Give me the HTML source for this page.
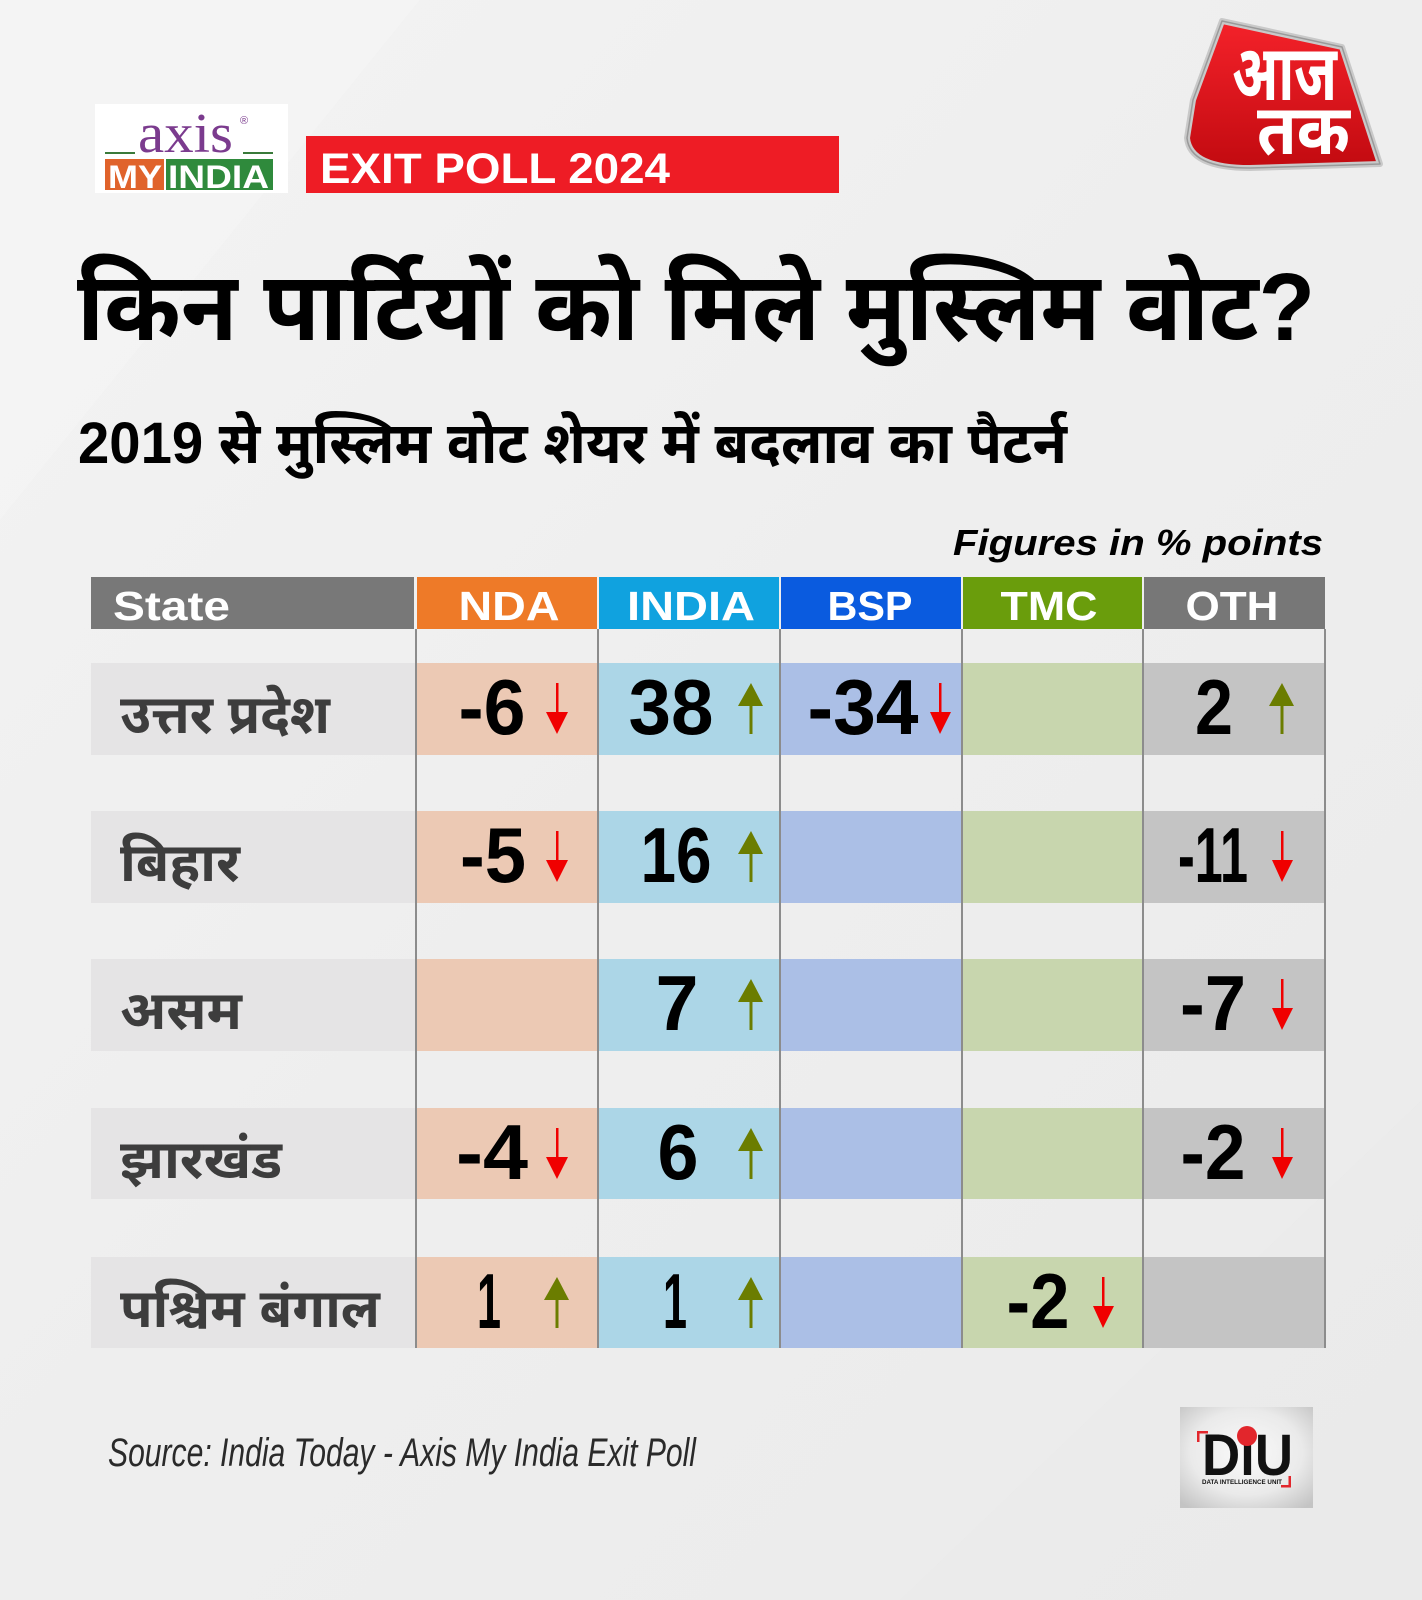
<!DOCTYPE html>
<html>
<head>
<meta charset="utf-8">
<style>
html,body{margin:0;padding:0;}
body{width:1422px;height:1600px;overflow:hidden;background:#eeeeee;}
svg{display:block;}
.hi{font-family:"Liberation Sans","Noto Sans Devanagari","Lohit Devanagari","Mukta","Hind","FreeSans",sans-serif;font-weight:bold;}
.la{font-family:"Liberation Sans",sans-serif;font-weight:bold;}
</style>
</head>
<body>
<svg width="1422" height="1600" viewBox="0 0 1422 1600" xmlns="http://www.w3.org/2000/svg">
  <defs>
    <linearGradient id="bg" x1="0" y1="0" x2="1" y2="1">
      <stop offset="0" stop-color="#f3f3f3"/>
      <stop offset="0.5" stop-color="#eeeeee"/>
      <stop offset="1" stop-color="#ebebeb"/>
    </linearGradient>
    <linearGradient id="red" x1="0" y1="0" x2="0" y2="1">
      <stop offset="0" stop-color="#f4222a"/>
      <stop offset="1" stop-color="#c20a10"/>
    </linearGradient>
    <radialGradient id="diu" cx="0.5" cy="0.45" r="0.7">
      <stop offset="0" stop-color="#fafafa"/>
      <stop offset="0.6" stop-color="#eaeaea"/>
      <stop offset="1" stop-color="#c4c4c4"/>
    </radialGradient>
  </defs>

  <!-- background -->
  <rect x="0" y="0" width="1422" height="1600" fill="url(#bg)"/>
  <polygon points="0,0 420,0 0,520" fill="#f5f5f5" opacity="0.5"/>
  <polygon points="900,1600 1422,1100 1422,1600" fill="#e9e9e9" opacity="0.5"/>

  <!-- Axis My India logo -->
  <rect x="95" y="104" width="193" height="89" fill="#ffffff"/>
  <text x="138" y="152" font-family="Liberation Serif, serif" font-size="56" fill="#7b3b8e" textLength="95" lengthAdjust="spacingAndGlyphs">axis</text>
  <text x="240" y="124" font-family="Liberation Sans, sans-serif" font-size="11" fill="#7b3b8e">®</text>
  <rect x="105" y="152" width="30" height="2" fill="#3a7a3a"/>
  <rect x="243" y="152" width="30" height="2" fill="#3a7a3a"/>
  <rect x="105" y="159" width="59" height="31" fill="#e0632b"/>
  <rect x="166" y="159" width="107" height="31" fill="#2f8a3c"/>
  <text x="108" y="188" class="la" font-size="32" fill="#ffffff" textLength="54" lengthAdjust="spacingAndGlyphs">MY</text>
  <text x="168" y="188" class="la" font-size="32" fill="#ffffff" textLength="101" lengthAdjust="spacingAndGlyphs">INDIA</text>

  <!-- EXIT POLL bar -->
  <rect x="306" y="136" width="533" height="57" fill="#ee1c25"/>
  <text x="320" y="183" class="la" font-size="43" fill="#ffffff" textLength="350" lengthAdjust="spacingAndGlyphs">EXIT POLL 2024</text>

  <!-- Aaj Tak logo -->
  <path d="M1222,21 L1342,47 L1380,164 L1250,168 Q1190,168 1187,138 L1193,100 Z" fill="url(#red)" stroke="#c9c9c9" stroke-width="6" stroke-linejoin="round"/>
  <path d="M1222,21 L1342,47 L1380,164 L1250,168 Q1190,168 1187,138 L1193,100 Z" fill="none" stroke="#9a9a9a" stroke-width="1.5" stroke-linejoin="round"/>
  <text x="1232" y="100" class="hi" font-size="78" fill="#ffffff" textLength="105" lengthAdjust="spacingAndGlyphs">आज</text>
  <text x="1257" y="154" class="hi" font-size="70" fill="#ffffff" textLength="93" lengthAdjust="spacingAndGlyphs">तक</text>

  <!-- Title -->
  <text x="77" y="340" class="hi" font-size="96" fill="#000000" textLength="1238" lengthAdjust="spacingAndGlyphs">किन पार्टियों को मिले मुस्लिम वोट?</text>
  <!-- Subtitle -->
  <text x="78" y="463" class="hi" font-size="58" fill="#000000" textLength="989" lengthAdjust="spacingAndGlyphs">2019 से मुस्लिम वोट शेयर में बदलाव का पैटर्न</text>

  <!-- Figures in % points -->
  <text x="953" y="555" font-family="Liberation Sans, sans-serif" font-weight="bold" font-style="italic" font-size="36" fill="#000000" textLength="370" lengthAdjust="spacingAndGlyphs">Figures in % points</text>

  <!-- Header row -->
  <rect x="91" y="577" width="323" height="52" fill="#787878"/>
  <rect x="417" y="577" width="180" height="52" fill="#ee7a28"/>
  <rect x="599" y="577" width="180" height="52" fill="#10a2df"/>
  <rect x="781" y="577" width="180" height="52" fill="#0a5bdf"/>
  <rect x="963" y="577" width="179" height="52" fill="#6a9d0c"/>
  <rect x="1144" y="577" width="181" height="52" fill="#777777"/>
  <g class="la" font-size="41" fill="#ffffff">
    <text x="113" y="620" textLength="117" lengthAdjust="spacingAndGlyphs">State</text>
    <text x="509" y="620" text-anchor="middle" textLength="101" lengthAdjust="spacingAndGlyphs">NDA</text>
    <text x="691" y="620" text-anchor="middle" textLength="128" lengthAdjust="spacingAndGlyphs">INDIA</text>
    <text x="870" y="620" text-anchor="middle" textLength="85" lengthAdjust="spacingAndGlyphs">BSP</text>
    <text x="1049" y="620" text-anchor="middle" textLength="97" lengthAdjust="spacingAndGlyphs">TMC</text>
    <text x="1232" y="620" text-anchor="middle" textLength="93" lengthAdjust="spacingAndGlyphs">OTH</text>
  </g>

  <!-- Data rows backgrounds -->
  <g>
    <g transform="translate(0,663)">
      <rect x="91" y="0" width="325" height="92" fill="#e5e4e5"/>
      <rect x="416" y="0" width="182" height="92" fill="#ecc9b4"/>
      <rect x="598" y="0" width="182" height="92" fill="#acd6e7"/>
      <rect x="780" y="0" width="182" height="92" fill="#abbfe6"/>
      <rect x="962" y="0" width="181" height="92" fill="#c8d6ae"/>
      <rect x="1143" y="0" width="182" height="92" fill="#c4c4c4"/>
    </g>
    <g transform="translate(0,811)">
      <rect x="91" y="0" width="325" height="92" fill="#e5e4e5"/>
      <rect x="416" y="0" width="182" height="92" fill="#ecc9b4"/>
      <rect x="598" y="0" width="182" height="92" fill="#acd6e7"/>
      <rect x="780" y="0" width="182" height="92" fill="#abbfe6"/>
      <rect x="962" y="0" width="181" height="92" fill="#c8d6ae"/>
      <rect x="1143" y="0" width="182" height="92" fill="#c4c4c4"/>
    </g>
    <g transform="translate(0,959)">
      <rect x="91" y="0" width="325" height="92" fill="#e5e4e5"/>
      <rect x="416" y="0" width="182" height="92" fill="#ecc9b4"/>
      <rect x="598" y="0" width="182" height="92" fill="#acd6e7"/>
      <rect x="780" y="0" width="182" height="92" fill="#abbfe6"/>
      <rect x="962" y="0" width="181" height="92" fill="#c8d6ae"/>
      <rect x="1143" y="0" width="182" height="92" fill="#c4c4c4"/>
    </g>
    <g transform="translate(0,1108)">
      <rect x="91" y="0" width="325" height="91" fill="#e5e4e5"/>
      <rect x="416" y="0" width="182" height="91" fill="#ecc9b4"/>
      <rect x="598" y="0" width="182" height="91" fill="#acd6e7"/>
      <rect x="780" y="0" width="182" height="91" fill="#abbfe6"/>
      <rect x="962" y="0" width="181" height="91" fill="#c8d6ae"/>
      <rect x="1143" y="0" width="182" height="91" fill="#c4c4c4"/>
    </g>
    <g transform="translate(0,1257)">
      <rect x="91" y="0" width="325" height="91" fill="#e5e4e5"/>
      <rect x="416" y="0" width="182" height="91" fill="#ecc9b4"/>
      <rect x="598" y="0" width="182" height="91" fill="#acd6e7"/>
      <rect x="780" y="0" width="182" height="91" fill="#abbfe6"/>
      <rect x="962" y="0" width="181" height="91" fill="#c8d6ae"/>
      <rect x="1143" y="0" width="182" height="91" fill="#c4c4c4"/>
    </g>
  </g>

  <!-- vertical lines -->
  <g stroke="#8c8c8c" stroke-width="2">
    <line x1="416" y1="629" x2="416" y2="1348"/>
    <line x1="598" y1="629" x2="598" y2="1348"/>
    <line x1="780" y1="629" x2="780" y2="1348"/>
    <line x1="962" y1="629" x2="962" y2="1348"/>
    <line x1="1143" y1="629" x2="1143" y2="1348"/>
    <line x1="1325" y1="629" x2="1325" y2="1348"/>
  </g>

  <!-- State names -->
  <g class="hi" font-size="54" fill="#3d3d3d">
    <text x="120" y="733" textLength="210" lengthAdjust="spacingAndGlyphs">उत्तर प्रदेश</text>
    <text x="120" y="881" textLength="120" lengthAdjust="spacingAndGlyphs">बिहार</text>
    <text x="120" y="1029" textLength="122" lengthAdjust="spacingAndGlyphs">असम</text>
    <text x="120" y="1178" textLength="162" lengthAdjust="spacingAndGlyphs">झारखंड</text>
    <text x="120" y="1327" textLength="260" lengthAdjust="spacingAndGlyphs">पश्चिम बंगाल</text>
  </g>

  <!-- Numbers -->
  <g class="la" font-size="78" fill="#000000" text-anchor="middle">
    <text x="492" y="734" textLength="67" lengthAdjust="spacingAndGlyphs">-6</text>
    <text x="671" y="734" textLength="85" lengthAdjust="spacingAndGlyphs">38</text>
    <text x="863" y="734" textLength="111" lengthAdjust="spacingAndGlyphs">-34</text>
    <text x="1214" y="734" textLength="38" lengthAdjust="spacingAndGlyphs">2</text>
    <text x="493" y="882" textLength="66" lengthAdjust="spacingAndGlyphs">-5</text>
    <text x="676" y="882" textLength="71" lengthAdjust="spacingAndGlyphs">16</text>
    <text x="1213" y="882" textLength="70" lengthAdjust="spacingAndGlyphs">-11</text>
    <text x="677" y="1030" textLength="43" lengthAdjust="spacingAndGlyphs">7</text>
    <text x="1213" y="1030" textLength="66" lengthAdjust="spacingAndGlyphs">-7</text>
    <text x="492" y="1179" textLength="72" lengthAdjust="spacingAndGlyphs">-4</text>
    <text x="678" y="1179" textLength="41" lengthAdjust="spacingAndGlyphs">6</text>
    <text x="1213" y="1179" textLength="65" lengthAdjust="spacingAndGlyphs">-2</text>
    <text x="489" y="1328" textLength="24" lengthAdjust="spacingAndGlyphs">1</text>
    <text x="675" y="1328" textLength="24" lengthAdjust="spacingAndGlyphs">1</text>
    <text x="1038" y="1328" textLength="63" lengthAdjust="spacingAndGlyphs">-2</text>
  </g>

  <!-- Arrows: down (red) -->
  <g fill="#f00000" stroke="none">
    <rect x="556" y="683" width="2.5" height="32"/><polygon points="546,712 568,712 557,734"/>
    <rect x="939" y="683" width="2.5" height="32"/><polygon points="930,712 951,712 940,734"/>
    <rect x="556" y="831" width="2.5" height="32"/><polygon points="546,860 568,860 557,882"/>
    <rect x="1281" y="831" width="2.5" height="32"/><polygon points="1272,860 1293,860 1282,882"/>
    <rect x="1281" y="979" width="2.5" height="32"/><polygon points="1272,1008 1293,1008 1282,1030"/>
    <rect x="556" y="1128" width="2.5" height="32"/><polygon points="546,1157 568,1157 557,1179"/>
    <rect x="1281" y="1128" width="2.5" height="32"/><polygon points="1272,1157 1293,1157 1282,1179"/>
    <rect x="1102" y="1277" width="2.5" height="32"/><polygon points="1093,1306 1114,1306 1103,1328"/>
  </g>
  <!-- Arrows: up (green) -->
  <g fill="#6b7d00" stroke="none">
    <rect x="749.5" y="703" width="3" height="31"/><polygon points="738,706 763,706 751,683"/>
    <rect x="1280.5" y="703" width="3" height="31"/><polygon points="1269,706 1294,706 1282,683"/>
    <rect x="749.5" y="851" width="3" height="31"/><polygon points="738,854 763,854 751,831"/>
    <rect x="749.5" y="999" width="3" height="31"/><polygon points="738,1002 763,1002 751,979"/>
    <rect x="749.5" y="1148" width="3" height="31"/><polygon points="738,1151 763,1151 751,1128"/>
    <rect x="555.5" y="1297" width="3" height="31"/><polygon points="544,1300 569,1300 557,1277"/>
    <rect x="749.5" y="1297" width="3" height="31"/><polygon points="738,1300 763,1300 751,1277"/>
  </g>

  <!-- Source -->
  <text x="108" y="1466" font-family="Liberation Sans, sans-serif" font-style="italic" font-size="40" fill="#2a2a2a" textLength="588" lengthAdjust="spacingAndGlyphs">Source: India Today - Axis My India Exit Poll</text>

  <!-- DiU logo -->
  <rect x="1180" y="1407" width="133" height="101" fill="url(#diu)"/>
  <text x="1202" y="1475" class="la" font-size="58" fill="#111111" textLength="91" lengthAdjust="spacingAndGlyphs">DıU</text>
  <circle cx="1247" cy="1436" r="10" fill="#e2262c"/>
  <text x="1202" y="1484" class="la" font-size="6.5" fill="#111111" textLength="80" lengthAdjust="spacingAndGlyphs">DATA INTELLIGENCE UNIT</text>
  <g fill="#e2262c">
    <rect x="1197" y="1431" width="11" height="2.5"/>
    <rect x="1197" y="1431" width="2.5" height="11"/>
    <rect x="1281" y="1485" width="10" height="2.5"/>
    <rect x="1288.5" y="1476" width="2.5" height="11.5"/>
  </g>
</svg>
</body>
</html>
